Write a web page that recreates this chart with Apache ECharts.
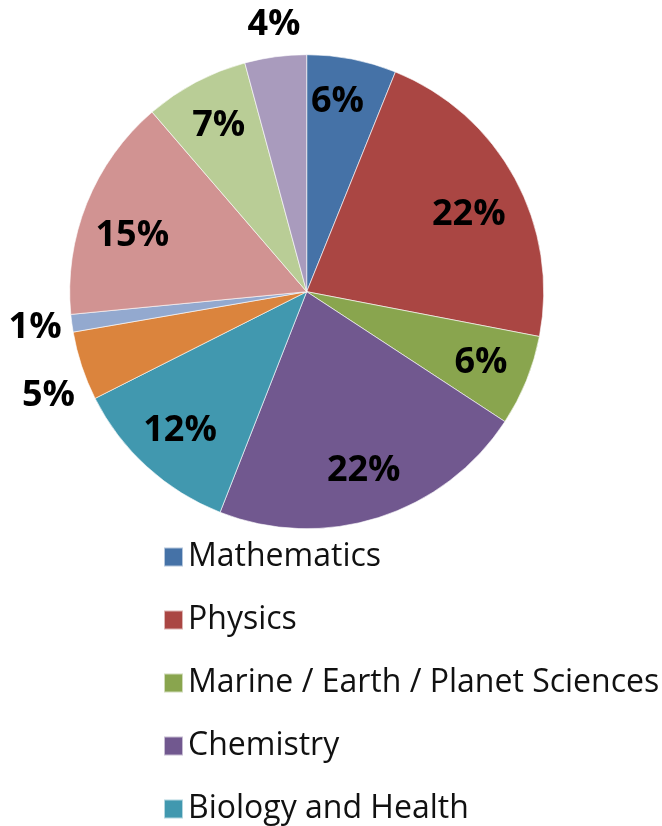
<!DOCTYPE html>
<html>
<head>
<meta charset="utf-8">
<script src="https://cdn.jsdelivr.net/npm/echarts@6/dist/echarts.min.js"></script>
<style>html,body{margin:0;padding:0;background:#fff;}#c{width:662px;height:826px;}</style>
</head>
<body>
<div id="c"></div>
<script>
// Data (percent of total), clockwise from 12 o'clock
const categories = ['Mathematics', 'Physics', 'Marine / Earth / Planet Sciences', 'Chemistry', 'Biology and Health',
  'Category 6', 'Category 7', 'Category 8', 'Category 9', 'Category 10'];
const values = [6.1, 21.9, 6.2, 21.7, 11.6, 4.7, 1.2, 15.2, 7.1, 4.2];
const colors = ['#4572A7', '#AA4643', '#89A54E', '#71588F', '#4198AF', '#DB843D', '#93A9CF', '#D19392', '#B9CD96', '#A99BBD'];
const legendNames = categories.slice(0, 5);
const outsideLabelIdx = [5, 6, 9];

const chart = echarts.init(document.getElementById('c'));
const center = [306.7, 291.7];
const labelFont = { fontFamily: 'Open Sans', fontWeight: 'bold', fontSize: 36, color: '#000' };
const pct = p => Math.round(p.percent) + '%';

// small "best fit" style nudges of individual labels
const labelNudge = { 0: { dx: -5, dy: -5 }, 1: { dx: -3, dy: 13 }, 5: { dx: -1, dy: 19 }, 6: { dx: -3 }, 7: { dy: 14 }, 9: { dx: 3, dy: 2 } };
const nudge = params => labelNudge[params.dataIndex] || {};

const mainData = categories.map((n, i) => ({ name: n, value: values[i], itemStyle: { color: colors[i] } }));
const innerData = categories.map((n, i) => ({
  name: n, value: values[i],
  label: { show: outsideLabelIdx.indexOf(i) < 0 }
}));
const outerData = categories.map((n, i) => ({
  name: n, value: values[i],
  label: { show: outsideLabelIdx.indexOf(i) >= 0 }
}));

const overlayBase = {
  type: 'pie', center: center, silent: true, legendHoverLink: false,
  avoidLabelOverlap: false, animation: false,
  itemStyle: { color: 'rgba(0,0,0,0)' },
  labelLine: { show: false },
  emphasis: { disabled: true },
  labelLayout: nudge,
  label: Object.assign({ position: 'inside', formatter: pct }, labelFont)
};

chart.setOption({
  animation: false,
  legend: {
    data: legendNames,
    orient: 'vertical',
    left: 158, top: 536,
    height: 400,
    icon: 'rect',
    itemWidth: 19, itemHeight: 19,
    itemGap: 31,
    itemTextGap: 14,
    selectedMode: false,
    textStyle: { fontFamily: 'Open Sans', fontSize: 32, color: '#111', lineHeight: 32 }
  },
  series: [
    {
      type: 'pie', center: center, radius: 237, startAngle: 90, clockwise: true,
      data: mainData, label: { show: false }, labelLine: { show: false },
      itemStyle: { borderColor: 'rgba(255,255,255,0.6)', borderWidth: 1 },
      emphasis: { disabled: true }
    },
    Object.assign({}, overlayBase, { radius: [133, 237], data: innerData }),
    Object.assign({}, overlayBase, { radius: [237, 299], data: outerData })
  ]
});
</script>
</body>
</html>
